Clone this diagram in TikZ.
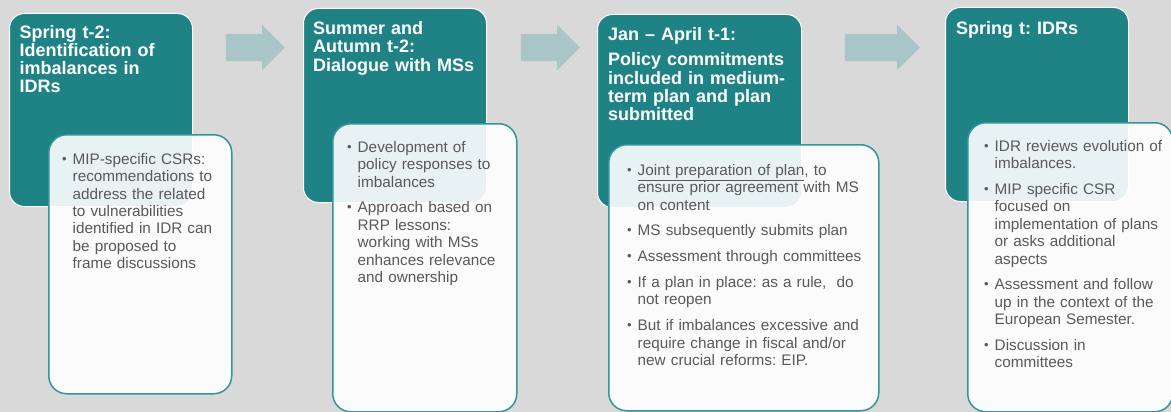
\documentclass[tikz,border=0pt]{standalone}
\usepackage{fontspec}
\setmainfont{Liberation Sans}
\usetikzlibrary{shapes.arrows,positioning}
\definecolor{stageteal}{HTML}{1F8285}
\definecolor{arrowgray}{HTML}{A9C5C7}
\definecolor{pagegray}{HTML}{D9D9D9}
\definecolor{bodygray}{HTML}{595959}
\definecolor{noteedge}{HTML}{31959A}
\tikzset{
  stagebox/.style={draw=white, line width=1pt, fill=stageteal, rounded corners=15pt,
    anchor=north west, inner sep=0pt},
  notebox/.style={draw=noteedge, line width=1.5pt, fill=white, fill opacity=0.9,
    rounded corners=18pt, anchor=north west, inner sep=0pt},
  flowarrow/.style={single arrow, fill=arrowgray, single arrow head extend=9pt,
    minimum width=45pt, inner xsep=0pt, inner ysep=13.5pt},
  stagetitle/.style={anchor=north west, inner sep=0pt, text=white,
    font=\fontsize{18}{18.2}\selectfont\bfseries\raggedright\frenchspacing},
  notelist/.style={anchor=north west, inner sep=0pt, text=bodygray,
    font=\fontsize{15.3}{17.4}\selectfont\raggedright\frenchspacing\setlength{\parskip}{8.4pt}},
}
% one bullet point with hanging indent
\newcommand{\pitem}[1]{{\let\\\newline\hangindent=10.5pt\hangafter=1\noindent
    \makebox[10.5pt][l]{\raisebox{1pt}{\fontsize{13}{13}\selectfont\textbullet}}#1\par}}

\begin{document}
\begin{tikzpicture}[x=1pt, y=-1pt]
    \useasboundingbox (0,0) rectangle (1171,412);
    \fill[pagegray] (0,0) rectangle (1171,412);
    \clip (0,0) rectangle (1171,412);

    % stage boxes
    \node[stagebox, minimum width=183pt, minimum height=193pt] (s1) at (9,13) {};
    \node[stagebox, minimum width=183pt, minimum height=194pt] (s2) at (303,8) {};
    \node[stagebox, minimum width=204pt, minimum height=193pt] (s3) at (597,14) {};
    \node[stagebox, minimum width=183pt, minimum height=194pt] (s4) at (945,7) {};

    % arrows between stages
    \node[flowarrow, minimum height=59pt] (a1) at (248.5,47.5) {};
    \node[flowarrow, minimum height=59pt] (a2) at (543.5,47.5) {};
    \node[flowarrow, minimum height=75pt] (a3) at (875.5,47.5) {};

    % note boxes
    \node[notebox, minimum width=183pt, minimum height=259pt] (n1) at (48,134) {};
    \node[notebox, minimum width=184pt, minimum height=288pt] (n2) at (332,123) {};
    \node[notebox, minimum width=270pt, minimum height=266pt] (n3) at (608,144) {};
    \node[notebox, minimum width=205pt, minimum height=289pt] (n4) at (967,122) {};

    % stage titles
    \node[stagetitle, text width=170pt] (t1) at (19.5,25)
        {Spring t-2:\\Identification of\\imbalances in\\IDRs};
    \node[stagetitle, text width=170pt] (t2) at (313,21.5)
        {Summer and\\Autumn t-2:\\Dialogue with MSs};
    \node[stagetitle, text width=190pt] (t3) at (608,27)
        {Jan -- April t-1:\par\vspace{7.5pt}Policy commitments\\included in medium-\\term plan and plan\\submitted};
    \node[stagetitle, text width=170pt] (t4) at (956,21)
        {Spring t: IDRs};

    % note texts
    \node[notelist, text width=165pt] (b1) at (62,153) {%
        \pitem{MIP-specific CSRs:\\recommendations to\\address the related\\to vulnerabilities\\identified in IDR can\\be proposed to\\frame discussions}};
    \node[notelist, text width=165pt] (b2) at (347,141) {%
        \pitem{Development of\\policy responses to\\imbalances}
        \pitem{Approach based on\\RRP lessons:\\working with MSs\\enhances relevance\\and ownership}};
    \node[notelist, text width=245pt] (b3) at (627,164) {%
        \pitem{\underline{Joint preparation of plan}, to\\ensure prior agreement with MS\\on content}
        \pitem{MS subsequently submits plan}
        \pitem{Assessment through committees}
        \pitem{If a plan in place: as a rule,\ \ do\\not reopen}
        \pitem{But if imbalances excessive and\\require change in fiscal and/or\\new crucial reforms: EIP.}};
    \node[notelist, text width=180pt] (b4) at (984,140) {%
        \pitem{IDR reviews evolution of\\imbalances.}
        \pitem{MIP specific CSR\\focused on\\implementation of plans\\or asks additional\\aspects}
        \pitem{Assessment and follow\\up in the context of the\\European Semester.}
        \pitem{Discussion in\\committees}};
\end{tikzpicture}
\end{document}
